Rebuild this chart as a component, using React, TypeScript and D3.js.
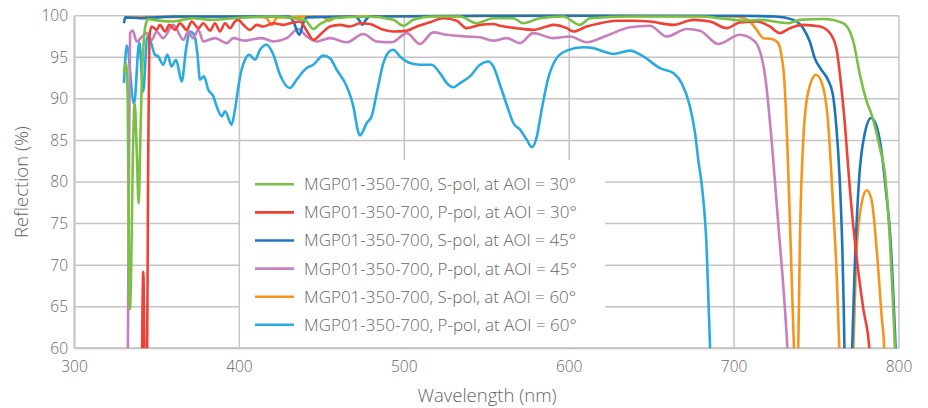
import React from "react";
import * as d3 from "d3";

const xTicks = [300, 400, 500, 600, 700, 800];
const yTicks = [60, 65, 70, 75, 80, 85, 90, 95, 100];

const legendLabels = [
  "MGP01-350-700, S-pol, at AOI = 30°",
  "MGP01-350-700, P-pol, at AOI = 30°",
  "MGP01-350-700, S-pol, at AOI = 45°",
  "MGP01-350-700, P-pol, at AOI = 45°",
  "MGP01-350-700, S-pol, at AOI = 60°",
  "MGP01-350-700, P-pol, at AOI = 60°",
];
const colors = ["#7ac143", "#ef4136", "#1c75bc", "#c77fbd", "#f7941d", "#29abe2"];

type P = [number, number];

const sPol30: P[] = [
  [330.0, 93.2], [331.2, 94.3], [332.3, 90], [332.9, 72], [333.6, 64.7], [334.4, 70], [335.3, 82],
  [336.5, 89.5], [337.7, 84], [338.9, 77.4], [339.8, 84], [340.8, 91.9], [342.2, 97.5], [343.4, 99.1],
  [344.8, 99.6], [347.8, 99.5], [359.9, 99.3], [372.0, 99.7], [382.2, 99.5], [396.3, 99.7], [420.6, 99.9],
  [432.7, 99.7], [436.8, 99.6], [440.8, 99.3], [444.8, 98.4], [448.9, 99.0], [452.9, 99.4], [456.9, 99.7],
  [477.2, 99.9], [493.3, 99.5], [499.4, 98.8], [505.5, 99.5], [517.6, 99.9], [533.8, 99.9], [543.9, 99.1],
  [554.0, 99.7], [566.1, 99.7], [572.1, 99.1], [582.3, 99.7], [596.4, 99.9], [606.5, 98.9], [612.6, 99.7],
  [636.9, 99.9], [679.3, 99.9], [695.5, 99.6], [707.6, 99.4], [715.7, 99.5], [732.8, 99.1], [739.9, 99.5],
  [754.1, 99.6], [766.2, 99.1], [772.3, 96.9], [776.3, 92.9], [780.4, 89.7], [783.4, 88.1], [788.4, 84.1],
  [791.5, 80.9], [794.5, 72.9], [796.5, 64.8], [797.5, 60], [798.2, 55],
];

const pPol30: P[] = [
  [340.8, 55], [341.7, 69.2], [342.8, 55], [343.9, 55], [344.6, 80], [345.4, 97.5], [346.8, 98.7],
  [349.8, 98.3], [351.8, 98.9], [354.9, 98.1], [357.5, 98.9], [360.9, 98.3], [364.0, 99.1], [368.0, 98.3],
  [371.1, 99.3], [375.1, 98.5], [378.1, 99.1], [382.2, 98.2], [385.2, 99.1], [388.2, 98.1], [391.3, 99.1],
  [394.3, 98.5], [397.3, 99.3], [399.3, 99.5], [402.4, 98.9], [406.4, 98.3], [410.5, 98.9], [414.5, 98.7],
  [420.6, 99.1], [426.6, 98.9], [432.7, 99.2], [436.7, 99.3], [440.8, 98.2], [444.8, 97.1], [449.9, 97.9],
  [454.9, 98.7], [461.0, 98.9], [467.1, 98.7], [473.1, 99.1], [479.2, 99.0], [487.3, 98.3], [493.3, 98.1],
  [501.5, 98.2], [507.5, 98.7], [515.6, 99.2], [523.6, 99.7], [531.8, 99.4], [537.8, 98.5], [545.9, 98.9],
  [554.0, 99.0], [558.0, 98.8], [568.1, 98.5], [578.2, 98.3], [586.3, 98.7], [590.4, 98.9], [598.5, 98.5],
  [602.5, 98.1], [610.6, 98.7], [618.7, 99.1], [628.8, 99.4], [638.9, 99.4], [649.0, 99.3], [663.1, 98.9],
  [675.2, 99.5], [685.4, 99.3], [695.5, 98.5], [703.5, 99.2], [713.7, 99.3], [721.7, 98.7], [727.8, 97.9],
  [733.8, 98.5], [741.9, 98.9], [752.0, 98.7], [758.1, 97.9], [762.2, 95.9], [764.2, 92.9], [767.2, 86.9],
  [770.3, 78.9], [774.3, 70.9], [778.3, 64.8], [782.0, 60], [783.0, 57],
];

const sPol45: P[] = [
  [330.0, 99.1], [330.8, 99.8], [340, 99.7], [360, 99.9], [400, 99.9], [430, 99.9], [432.7, 99.3],
  [436.3, 97.7], [438.9, 99.2], [441, 99.8], [470, 99.9], [472.5, 99.5], [474.6, 98.9], [476.7, 99.5],
  [479, 99.9], [550, 100], [650, 100], [700, 100], [725, 99.9], [735.9, 99.5], [741.9, 98.5],
  [745.9, 96.9], [748.9, 94.9], [752.9, 93.5], [756.9, 92.3], [759.9, 90.5], [761.9, 86.9], [763.9, 80.9],
  [765.5, 72.9], [766.5, 64.9], [766.9, 60], [769.2, 45], [771.6, 60], [773.0, 68.9], [776.0, 80.9],
  [779.1, 85.7], [783.1, 87.7], [786.1, 86.9], [789.1, 84.1], [792.1, 78.9], [794.9, 72.9], [796.9, 64.8],
  [797.9, 60], [798.5, 55],
];

const pPol45: P[] = [
  [332.3, 58], [333.0, 80], [333.7, 97.9], [335.3, 98.2], [337.7, 96.9], [340.1, 97.3], [343.8, 97.9],
  [346.8, 97.1], [349.8, 98.1], [353.7, 97.3], [359.9, 98.9], [366.0, 97.1], [369.0, 98.1], [371.9, 97.3],
  [375.1, 98.3], [378.1, 96.9], [385.2, 97.3], [392.3, 96.7], [396.3, 97.3], [403.4, 97.0], [406.4, 97.1],
  [413.7, 97.3], [420.6, 96.9], [428.7, 97.3], [435.7, 98.4], [440.8, 97.5], [446.9, 96.9], [454.9, 97.3],
  [465.1, 96.8], [475.1, 97.8], [483.3, 96.9], [492.4, 96.8], [501.5, 97.9], [509.5, 96.6], [517.6, 98.0],
  [525.7, 97.7], [537.8, 97.5], [545.9, 97.4], [554.0, 97.0], [562.1, 97.3], [570.2, 96.7], [578.2, 97.9],
  [590.4, 97.3], [600.5, 97.5], [610.6, 96.8], [622.7, 97.6], [636.9, 98.6], [649.0, 98.8], [659.1, 97.5],
  [671.3, 98.4], [679.3, 98.2], [690.4, 96.6], [703.5, 97.7], [712.6, 96.9], [718.7, 92.9], [722.8, 84.9],
  [726.8, 74.9], [730.8, 64.8], [732.3, 60], [733.0, 57],
];

const sPol60: P[] = [
  [330.0, 99.6], [332, 99.8], [400, 99.9], [416, 99.8], [419.6, 98.9], [423, 99.8], [450, 99.9],
  [454.9, 99.4], [459, 99.9], [600, 100], [700, 99.9], [705.6, 99.7], [709.6, 99.3], [713.7, 98.3],
  [717.7, 97.3], [722.8, 97.2], [726.8, 96.7], [728.8, 95.1], [730.2, 92.9], [732.2, 84.9], [733.9, 74.9],
  [735.5, 64.8], [736.3, 60], [737.6, 52], [738.9, 60], [739.9, 72.9], [741.9, 84.9], [745.0, 90.9],
  [749.8, 92.9], [754.1, 91.3], [757.1, 86.9], [760.1, 76.9], [762.2, 68.9], [763.8, 60], [768, 40],
  [772.3, 60], [774.3, 71.8], [777.3, 77.4], [780.4, 79.0], [783.4, 77.8], [786.5, 71.8], [789.5, 63.8],
  [791.0, 60], [791.8, 55],
];

const pPol60: P[] = [
  [330.0, 91.9], [331.7, 96.4], [336.1, 89.4], [339.3, 96.8], [341.7, 90.9], [344.1, 97.5], [345.8, 97.1],
  [348.8, 95.3], [350.8, 95.1], [353.8, 94.1], [356.3, 95.3], [358.9, 93.9], [361.6, 94.7], [365.0, 92.1],
  [367.6, 95.9], [370.0, 98.1], [372.6, 97.7], [374.5, 95.5], [376.1, 92.3], [378.5, 92.7], [381.1, 91.1],
  [384.2, 90.3], [386.2, 89.1], [389.3, 87.9], [391.3, 88.5], [395.3, 86.9], [397.3, 88.7], [400.4, 92.7],
  [403.4, 94.7], [406.0, 95.3], [409.5, 94.7], [412.5, 95.9], [416.6, 96.5], [420.6, 95.3], [424.6, 92.9],
  [430.7, 91.3], [434.7, 92.3], [440.8, 93.7], [444.8, 94.1], [450.9, 95.2], [454.9, 94.9], [459.0, 93.5],
  [465.1, 91.5], [469.1, 89.1], [472.1, 86.0], [473.1, 85.6], [477.2, 87.1], [480.2, 87.9], [483.3, 90.7],
  [487.3, 94.3], [490.9, 95.7], [493.3, 95.9], [497.4, 95.1], [503.5, 94.3], [509.5, 94.1], [516.6, 94.1],
  [521.6, 93.1], [526.7, 91.7], [529.7, 91.4], [533.8, 91.9], [539.8, 92.7], [545.9, 94.1], [550.9, 94.5],
  [554.0, 93.9], [558.0, 91.7], [563.1, 88.7], [566.1, 87.1], [570.2, 86.3], [574.2, 85.1], [577.3, 84.2],
  [580.3, 85.4], [583.3, 88.7], [587.3, 92.5], [592.4, 94.9], [598.5, 95.8], [608.5, 96.2], [614.6, 96.1],
  [620.7, 95.7], [626.7, 95.4], [636.9, 95.8], [644.9, 95.1], [655.1, 93.7], [663.1, 93.1], [668.2, 91.9],
  [673.2, 89.1], [676.3, 85.9], [678.3, 82.6], [680.3, 79.8], [683.4, 71.8], [685.4, 60.2], [686.0, 56],
];

const series: P[][] = [sPol30, pPol30, sPol45, pPol45, sPol60, pPol60];

const W = 928;
const H = 408;
const L = 74.5, R = 899, T = 15.7, B = 348.3;
const FONT = "'Open Sans', sans-serif";
const TXT = "#666666";
const GRID = "#c4c4c4";

export default function App() {
  const x = d3.scaleLinear().domain([300, 800]).range([L, R]);
  const y = d3.scaleLinear().domain([60, 100]).range([B, T]);
  const line = d3
    .line<P>()
    .x((d) => x(d[0]))
    .y((d) => y(d[1]))
    .curve(d3.curveMonotoneX);
  const order = [5, 3, 4, 2, 1, 0];
  const legX0 = 255, legX1 = 294, legTextX = 304, legY0 = 184.3, legDy = 28.1;
  return (
    <svg width={W} height={H} style={{ position: "absolute", left: 0, top: 0 }}>
      <defs>
        <clipPath id="plot">
          <rect x={L} y={T - 4} width={R - L} height={B - T + 4} />
        </clipPath>
      </defs>
      <rect x={0} y={0} width={W} height={H} fill="#fff" />
      {yTicks.map((t) => (
        <line key={"gy" + t} x1={L} x2={R} y1={y(t)} y2={y(t)} stroke={GRID} strokeWidth={1.5} />
      ))}
      {xTicks.map((t) => (
        <line key={"gx" + t} x1={x(t)} x2={x(t)} y1={T} y2={B} stroke={GRID} strokeWidth={1.5} />
      ))}
      <line x1={L} x2={L} y1={T} y2={B} stroke={GRID} strokeWidth={2} />
      <line x1={L} x2={R} y1={B} y2={B} stroke={GRID} strokeWidth={2} />
      <g clipPath="url(#plot)">
        {order.map((i) => (
          <path key={i} d={line(series[i]) || ""} fill="none" stroke={colors[i]} strokeWidth={2.6} strokeLinejoin="round" />
        ))}
      </g>
      <rect x={240} y={160} width={365} height={187} fill="#fff" />
      {legendLabels.map((lab, i) => (
        <g key={lab}>
          <line x1={legX0} x2={legX1} y1={legY0 + i * legDy} y2={legY0 + i * legDy} stroke={colors[i]} strokeWidth={2.6} />
          <text x={legTextX} y={legY0 + i * legDy} dy="0.35em" fontFamily={FONT} fontWeight={300} fontSize={17} fill={TXT}>
            {lab}
          </text>
        </g>
      ))}
      {yTicks.map((t) => (
        <text key={"ty" + t} x={68} y={y(t)} dy="0.35em" textAnchor="end" fontFamily={FONT} fontWeight={300} fontSize={15.5} fill={TXT}>
          {t}
        </text>
      ))}
      {xTicks.map((t) => (
        <text key={"tx" + t} x={x(t)} y={367} dy="0.35em" textAnchor="middle" fontFamily={FONT} fontWeight={300} fontSize={15.5} fill={TXT}>
          {t}
        </text>
      ))}
      <text x={487} y={396} dy="0.35em" textAnchor="middle" fontFamily={FONT} fontWeight={300} fontSize={18.5} fill={TXT}>
        Wavelength (nm)
      </text>
      <text
        transform={`translate(22,${(T + B) / 2}) rotate(-90)`}
        dy="0.35em"
        textAnchor="middle"
        fontFamily={FONT}
        fontWeight={300}
        fontSize={18.5}
        fill={TXT}
      >
        Reflection (%)
      </text>
    </svg>
  );
}
